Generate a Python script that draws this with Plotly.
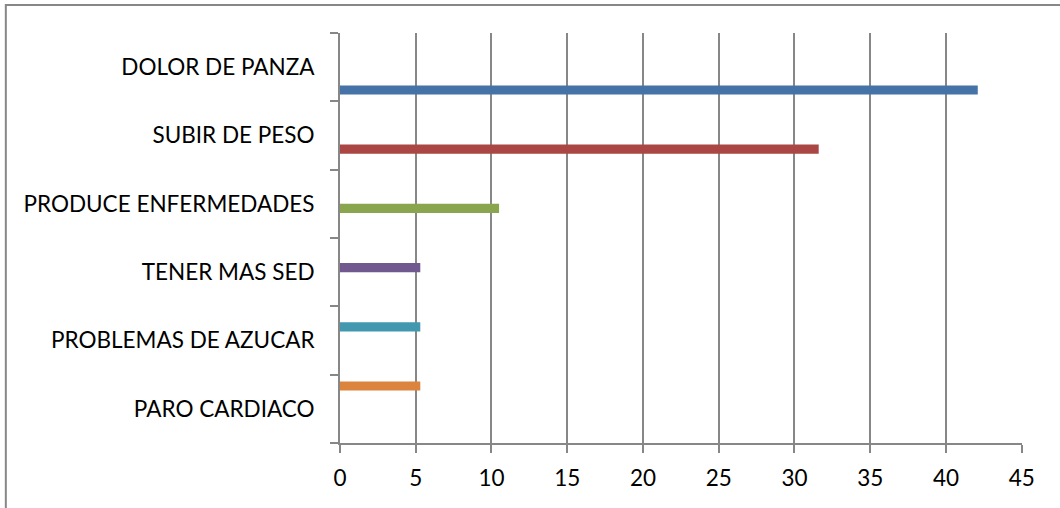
import plotly.graph_objects as go

# Survey answers (percent of respondents), one series per answer
categories = [
    "DOLOR DE PANZA",
    "SUBIR DE PESO",
    "PRODUCE ENFERMEDADES",
    "TENER MAS SED",
    "PROBLEMAS DE AZUCAR",
    "PARO CARDIACO",
]
values = [42.1, 31.6, 10.5, 5.3, 5.3, 5.3]
series_colors = ["#4572A7", "#AA4643", "#89A54E", "#71588F", "#4198AF", "#DB843D"]
x_ticks = list(range(0, 50, 5))

# bottom-to-top order of the category axis
axis_order = categories[::-1]

GRAY = "#878787"
FONT = "Lato"
FONT_SIZE = 22.5

# clustered layout: each category band holds one slot per series
n_series = len(categories)
group_width = 0.8
slot = group_width / n_series

fig = go.Figure()
for i, (name, val, col) in enumerate(zip(categories, values, series_colors)):
    fig.add_trace(go.Bar(
        y=[name], x=[val], orientation="h", name=name,
        width=slot, offset=-group_width / 2 + i * slot,
        marker=dict(color=col, line=dict(width=0)),
        hoverinfo="x+y",
    ))

fig.update_layout(
    width=1060, height=508,
    margin=dict(l=340, r=38, t=33, b=65),
    paper_bgcolor="white", plot_bgcolor="white",
    barmode="overlay",
    showlegend=False,
    font=dict(family=FONT, size=FONT_SIZE, color="#000000"),
)

fig.update_xaxes(
    range=[0, 45.02], tickvals=x_ticks, ticktext=[str(t) for t in x_ticks],
    showgrid=True, gridcolor=GRAY, gridwidth=2,
    zeroline=False,
    showline=True, linecolor=GRAY, linewidth=2,
    ticks="outside", ticklen=8, tickwidth=2, tickcolor=GRAY,
    ticklabelstandoff=6,
    tickfont=dict(family=FONT, size=FONT_SIZE, color="#000000"),
)
fig.update_yaxes(
    type="category", categoryorder="array", categoryarray=axis_order,
    showgrid=False, zeroline=False,
    showline=True, linecolor=GRAY, linewidth=2,
    ticks="outside", tickson="boundaries", ticklen=8, tickwidth=2, tickcolor=GRAY,
    ticklabelstandoff=19,
    tickfont=dict(family=FONT, size=FONT_SIZE, color="#000000"),
)

# chart-area frame (left and top edges visible)
fig.add_shape(
    type="rect", xref="paper", yref="paper",
    x0=-0.490, x1=1.2, y0=-0.4, y1=1.0685,
    line=dict(color=GRAY, width=2), fillcolor="rgba(0,0,0,0)",
    layer="below",
)

fig.write_html("out.html")
